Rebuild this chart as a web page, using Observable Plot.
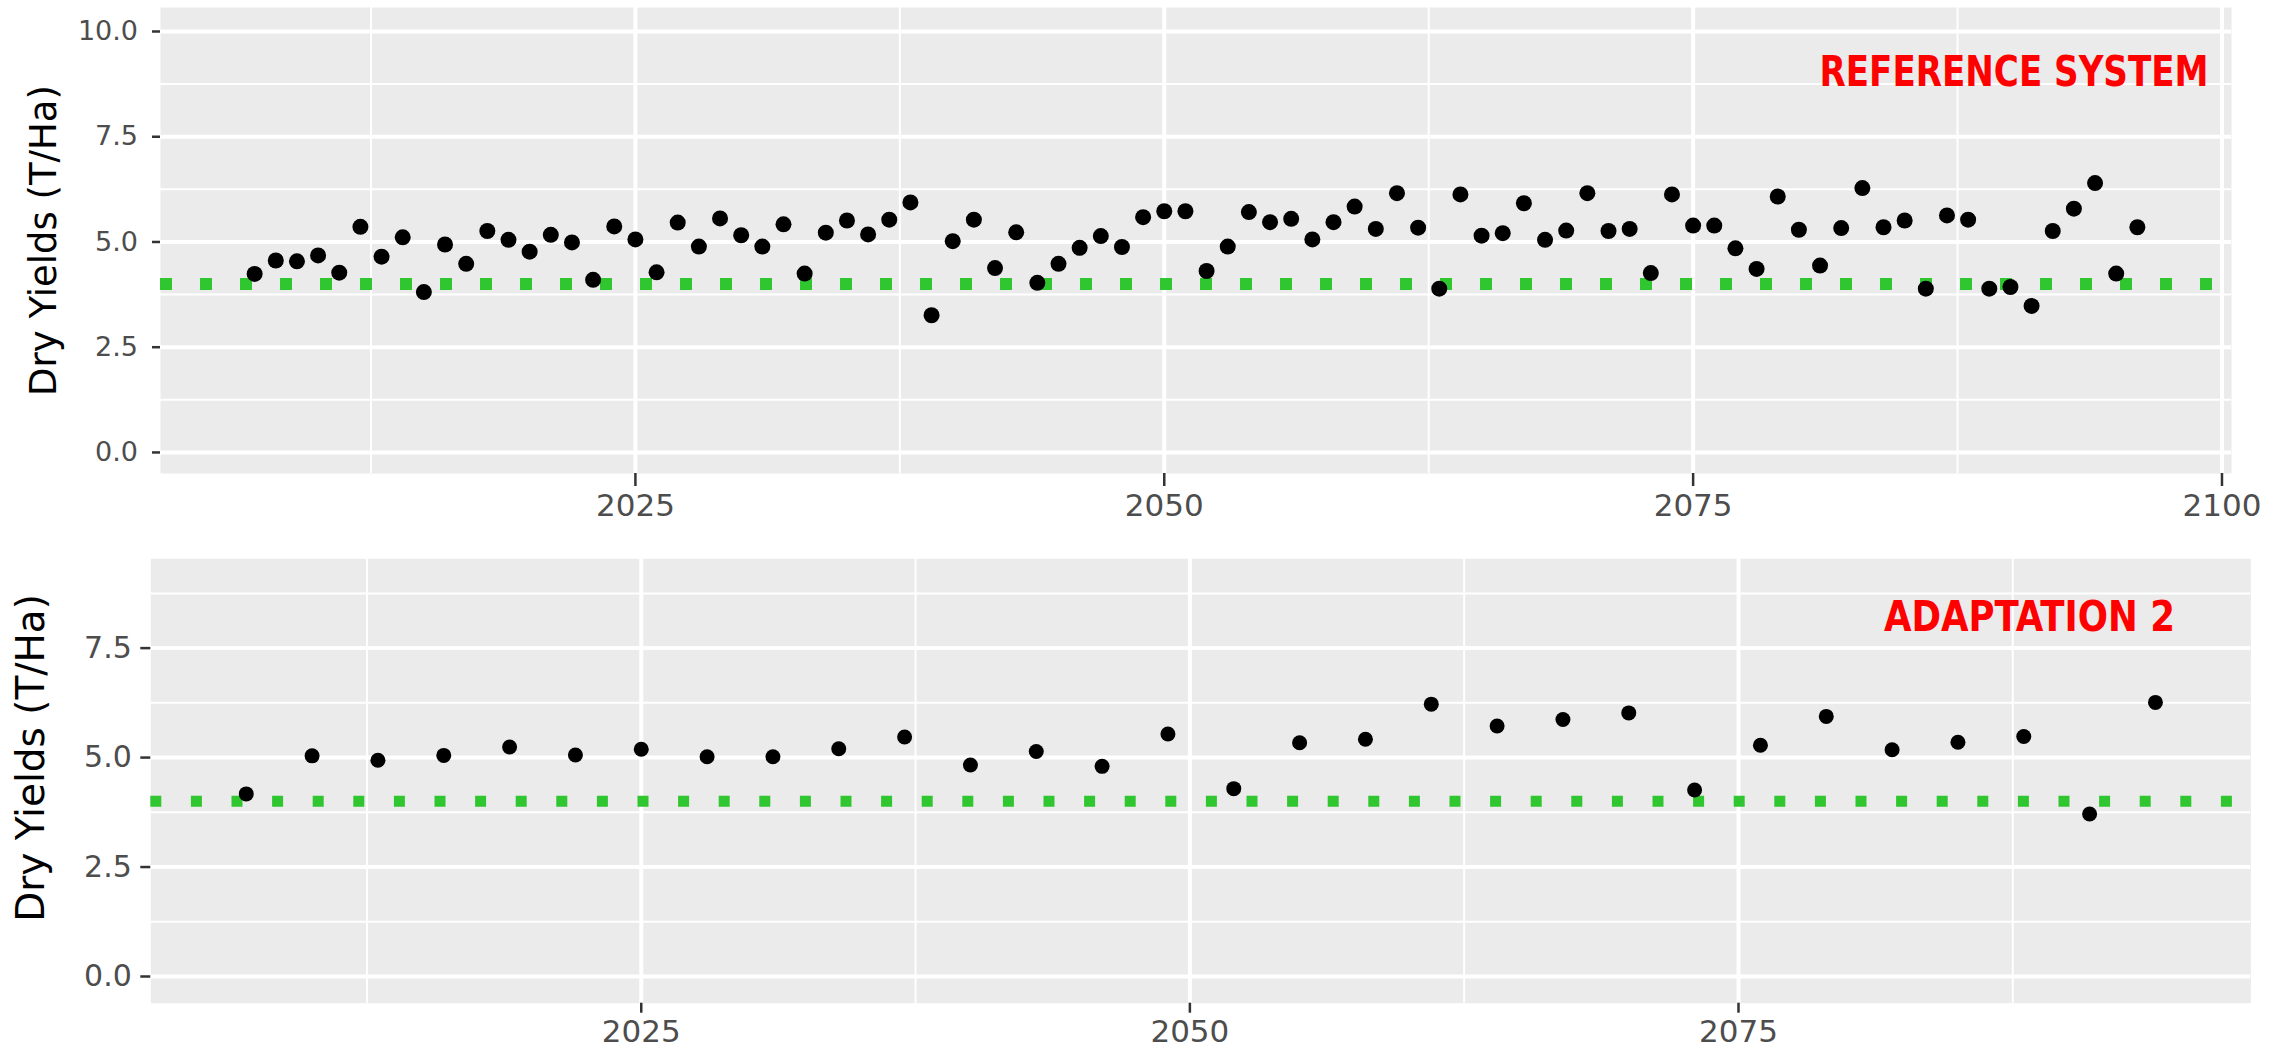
<!DOCTYPE html>
<html>
<head>
<meta charset="utf-8">
<script src="https://cdn.jsdelivr.net/npm/d3@7"></script>
<script src="https://cdn.jsdelivr.net/npm/@observablehq/plot@0.6"></script>
<style>
  html, body { margin: 0; padding: 0; background: #ffffff; }
  #wrap { position: relative; width: 2281px; height: 1051px; overflow: hidden; background: #fff; }
  #top { position: absolute; left: 0; top: 0; width: 2281px; height: 540px; }
  #bottom { position: absolute; left: 0; top: 540px; width: 2281px; height: 511px; }
</style>
</head>
<body>
<div id="wrap"><div id="top"></div><div id="bottom"></div></div>
<script>
// ---------- data ----------
const refYears = [2007,2008,2009,2010,2011,2012,2013,2014,2015,2016,2017,2018,2019,2020,2021,2022,2023,2024,2025,2026,
  2027,2028,2029,2030,2031,2032,2033,2034,2035,2036,2037,2038,2039,2040,2041,2042,2043,2044,2045,2046,
  2047,2048,2049,2050,2051,2052,2053,2054,2055,2056,2057,2058,2059,2060,2061,2062,2063,2064,2065,2066,
  2067,2068,2069,2070,2071,2072,2073,2074,2075,2076,2077,2078,2079,2080,2081,2082,2083,2084,2085,2086,
  2087,2088,2089,2090,2091,2092,2093,2094,2095,2096];
const refYields = [4.24,4.56,4.54,4.68,4.27,5.36,4.65,5.11,3.81,4.94,4.48,5.26,5.05,4.77,5.17,4.99,4.10,5.37,5.06,4.28,
  5.46,4.89,5.56,5.16,4.89,5.42,4.25,5.22,5.51,5.18,5.53,5.94,3.26,5.02,5.53,4.38,5.23,4.03,4.48,4.86,
  5.14,4.88,5.59,5.73,5.73,4.31,4.89,5.71,5.47,5.55,5.06,5.47,5.84,5.31,6.16,5.34,3.89,6.13,5.15,5.21,
  5.92,5.05,5.27,6.16,5.26,5.31,4.26,6.13,5.39,5.39,4.85,4.36,6.08,5.29,4.44,5.33,6.28,5.35,5.51,3.89,
  5.63,5.53,3.89,3.93,3.48,5.26,5.79,6.40,4.25,5.35];

const adaptYears = [2007,2010,2013,2016,2019,2022,2025,2028,2031,2034,2037,2040,2043,2046,2049,
  2052,2055,2058,2061,2064,2067,2070,2073,2076,2079,2082,2085,2088,2091,2094];
const adaptYields = [4.17,5.04,4.94,5.05,5.24,5.06,5.19,5.02,5.02,5.20,5.47,4.83,5.14,4.80,5.54,
  4.29,5.34,5.42,6.22,5.72,5.87,6.02,4.26,5.28,5.94,5.18,5.35,5.48,3.71,6.26];

const threshold = 4.0;
const yMajor = [0, 2.5, 5, 7.5, 10];
const yMinor = [1.25, 3.75, 6.25, 8.75];
const xMajor = [2025, 2050, 2075, 2100];
const xMinor = [2012.5, 2037.5, 2062.5, 2087.5];
const yTitle = "Dry Yields (T/Ha)";
const topLabel = "REFERENCE SYSTEM";
const bottomLabel = "ADAPTATION 2";

const refData = refYears.map((year, i) => ({year, yield: refYields[i]}));
const adaptData = adaptYears.map((year, i) => ({year, yield: adaptYields[i]}));

// ---------- styles ----------
const green = "#30c630";
const panelBg = "#ebebeb";
const tickText = "#4d4d4d";
const tickLine = "#333333";
const labelFont = "'Liberation Sans Narrow', 'DejaVu Sans Condensed', 'Liberation Sans', Arial, sans-serif";

function panel(cfg) {
  const inX = v => v >= cfg.xDomain[0] && v <= cfg.xDomain[1];
  const inY = v => v >= cfg.yDomain[0] && v <= cfg.yDomain[1];
  const chart = Plot.plot({
    width: cfg.width, height: cfg.height,
    marginLeft: cfg.ml, marginRight: cfg.mr, marginTop: cfg.mt, marginBottom: cfg.mb,
    x: {domain: cfg.xDomain, axis: null},
    y: {domain: cfg.yDomain, axis: null},
    style: {fontFamily: "'DejaVu Sans', sans-serif", background: "white", color: tickText, overflow: "visible"},
    marks: [
      Plot.frame({fill: panelBg, stroke: "none"}),
      Plot.ruleY(yMinor.filter(inY), {stroke: "white", strokeWidth: 2}),
      Plot.ruleX(xMinor.filter(inX), {stroke: "white", strokeWidth: 2}),
      Plot.ruleY(yMajor.filter(inY), {stroke: "white", strokeWidth: 4}),
      Plot.ruleX(xMajor.filter(inX), {stroke: "white", strokeWidth: 4}),
      Plot.ruleY([threshold], {stroke: green, strokeWidth: cfg.dashW, strokeDasharray: cfg.dash}),
      Plot.dot(cfg.data, {x: "year", y: "yield", r: cfg.r, fill: "black", stroke: "none"}),
      Plot.axisY(yMajor.filter(inY), {tickSize: cfg.yTick, tickPadding: cfg.yPad, fontSize: cfg.yFont,
        stroke: tickLine, strokeWidth: 2.5, fill: tickText, tickFormat: d3.format(".1f"), label: null}),
      Plot.axisX(xMajor.filter(inX), {tickSize: cfg.xTick, tickPadding: cfg.xPad, fontSize: cfg.xFont,
        stroke: tickLine, strokeWidth: 2.5, fill: tickText, tickFormat: d => String(d), label: null}),
      Plot.text([yTitle], {frameAnchor: "left", rotate: -90, dx: cfg.titleDx, dy: cfg.titleDy,
        fontSize: cfg.titleFont, fill: "black", textAnchor: "middle", lineAnchor: "middle"}),
      Plot.text([cfg.label], {frameAnchor: "top-right", dx: cfg.labelDx, dy: cfg.labelDy,
        fontSize: 42, fontWeight: "bold", fontFamily: labelFont, fill: "#ff0000",
        textAnchor: "end", lineAnchor: "middle"})
    ]
  });
  chart.querySelectorAll("text").forEach(t => {
    if (t.textContent === cfg.label) {
      t.setAttribute("textLength", cfg.labelW);
      t.setAttribute("lengthAdjust", "spacingAndGlyphs");
    }
  });
  return chart;
}

document.getElementById("top").appendChild(panel({
  width: 2250, height: 540, ml: 160, mr: 19, mt: 7, mb: 67,
  xDomain: [2002.55, 2100.45], yDomain: [-0.5, 10.57],
  data: refData, r: 8, dashW: 12, dash: "12,28",
  yTick: 8, yPad: 14.5, yFont: 27, xTick: 13, xPad: 7, xFont: 31,
  titleDx: -116.5, titleDy: 0, titleFont: 37,
  label: topLabel, labelDx: -23, labelDy: 65, labelW: 389
}));

document.getElementById("bottom").appendChild(panel({
  width: 2281, height: 511, ml: 150.3, mr: 30.6, mt: 18.3, mb: 48.3,
  xDomain: [2002.65, 2098.35], yDomain: [-0.61, 9.54],
  data: adaptData, r: 7.5, dashW: 11, dash: "11,29.6",
  yTick: 10, yPad: 9, yFont: 30, xTick: 10, xPad: 7, xFont: 31,
  titleDx: -119, titleDy: -23, titleFont: 39,
  label: bottomLabel, labelDx: -76, labelDy: 58.4, labelW: 291
}));
</script>
</body>
</html>
